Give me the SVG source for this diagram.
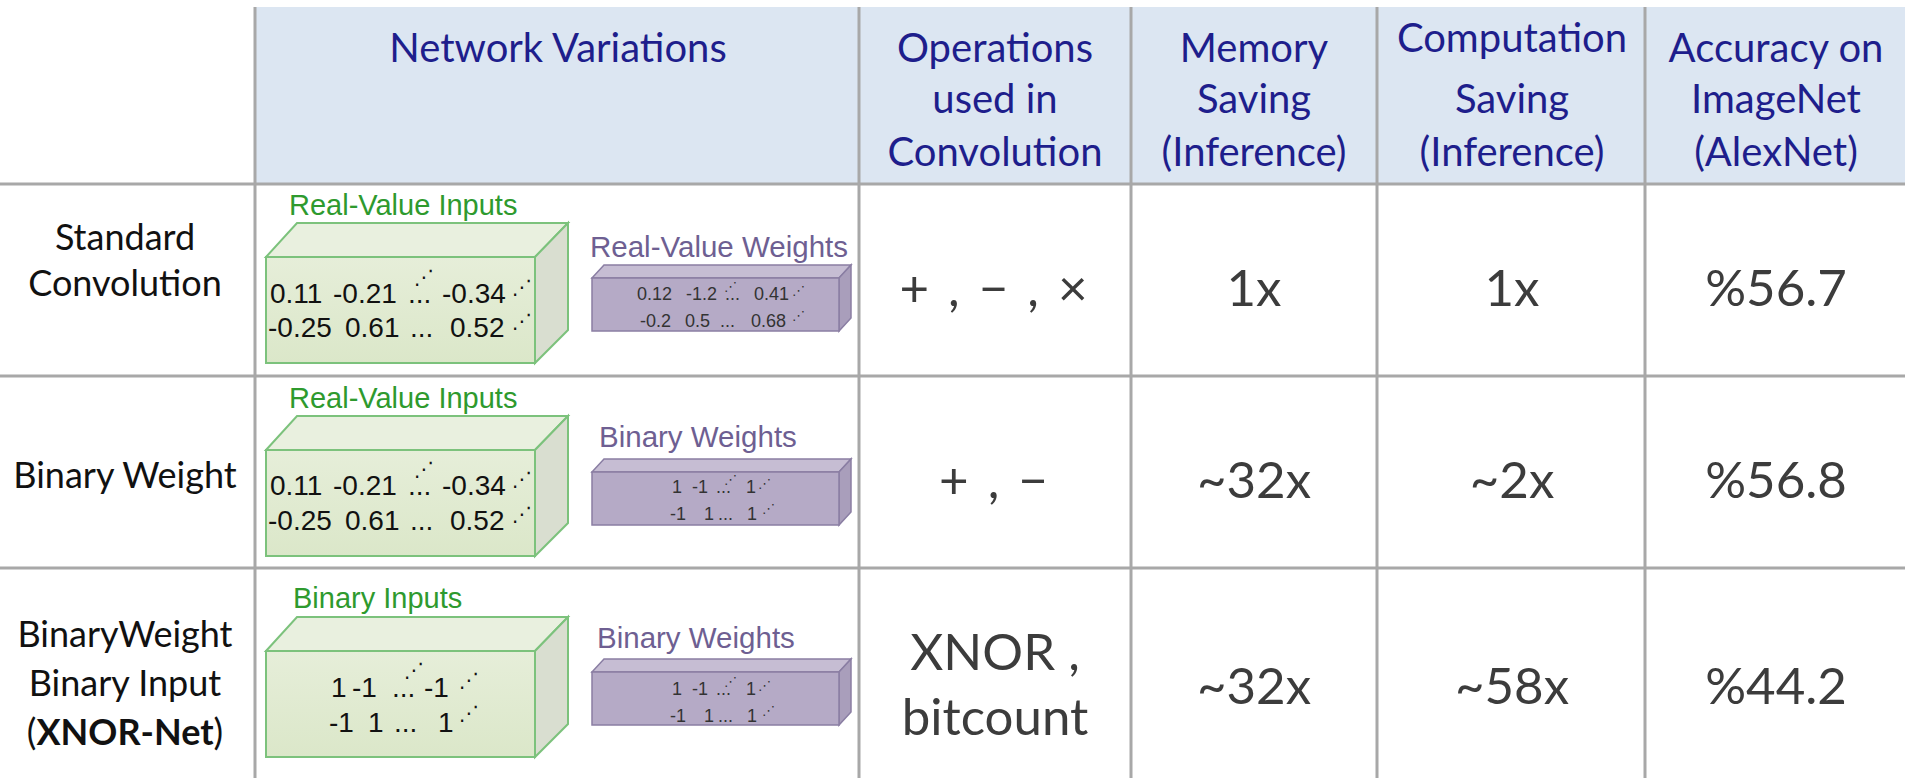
<svg xmlns="http://www.w3.org/2000/svg" width="1905" height="778" viewBox="0 0 1905 778">
<style>
.hd{font-family:Lato,"Open Sans",sans-serif;font-size:40px;fill:#1e1e8c;text-anchor:middle}
.rl{font-family:Lato,"Open Sans",sans-serif;font-size:36px;fill:#111;text-anchor:middle}
.dt{font-family:Lato,"Open Sans",sans-serif;font-size:51px;fill:#3c3c3c;text-anchor:middle}
.gl{font-family:"Liberation Sans",Arial,sans-serif;font-size:29px;fill:#2e9a2e}
.pl{font-family:"Liberation Sans",Arial,sans-serif;font-size:29.5px;fill:#6e5f92}
.gv{font-family:"Liberation Sans",Arial,sans-serif;font-size:28px;fill:#111}
.pv{font-family:"Liberation Sans",Arial,sans-serif;font-size:18px;fill:#333}
.dg{font-family:"DejaVu Sans",sans-serif;font-size:20px;fill:#111}
.dp{font-family:"DejaVu Sans",sans-serif;font-size:13px;fill:#333}
.grid{stroke:#a8a8a8;stroke-width:3;fill:none}
</style>
<defs>
<linearGradient id="gf" x1="0" y1="0" x2="0" y2="1"><stop offset="0" stop-color="#e6eed9"/><stop offset="1" stop-color="#dbe7c9"/></linearGradient>
<g id="gcube">
<polygon points="0,0 31,-34 302,-34 269,0" fill="#e9f0df" stroke="#7cc27c" stroke-width="2"/>
<polygon points="269,0 302,-34 302,73 269,106" fill="#d9ded0" stroke="#7cc27c" stroke-width="2"/>
<rect x="0" y="0" width="269" height="106" fill="url(#gf)" stroke="#7cc27c" stroke-width="2"/>
</g>
<g id="pcube">
<polygon points="0,0 12,-13 259,-13 247,0" fill="#c6bdd3" stroke="#8a7ea3" stroke-width="1.5"/>
<polygon points="247,0 259,-13 259,40 247,53" fill="#a99ebb" stroke="#8a7ea3" stroke-width="1.5"/>
<rect x="0" y="0" width="247" height="53" fill="#b5aac6" stroke="#8a7ea3" stroke-width="1.5"/>
</g>
</defs>

<g id="header">
<rect x="256" y="7" width="1649" height="177" fill="#dce6f2"/>
<text class="hd" x="558" y="62">Network Variations</text>
<text class="hd" x="995" y="62">Operations</text>
<text class="hd" x="995" y="113">used in</text>
<text class="hd" x="995" y="166">Convolution</text>
<text class="hd" x="1254" y="62">Memory</text>
<text class="hd" x="1254" y="113">Saving</text>
<text class="hd" x="1254" y="166">(Inference)</text>
<text class="hd" x="1512" y="52">Computation</text>
<text class="hd" x="1512" y="113">Saving</text>
<text class="hd" x="1512" y="166">(Inference)</text>
<text class="hd" x="1776" y="62">Accuracy on</text>
<text class="hd" x="1776" y="113">ImageNet</text>
<text class="hd" x="1776" y="166">(AlexNet)</text>
</g>

<g id="grid">
<line class="grid" x1="255" y1="7" x2="255" y2="778"/>
<line class="grid" x1="859" y1="7" x2="859" y2="778"/>
<line class="grid" x1="1131" y1="7" x2="1131" y2="778"/>
<line class="grid" x1="1377" y1="7" x2="1377" y2="778"/>
<line class="grid" x1="1645" y1="7" x2="1645" y2="778"/>
<line class="grid" x1="0" y1="184" x2="1905" y2="184" stroke-width="4"/>
<line class="grid" x1="0" y1="376" x2="1905" y2="376"/>
<line class="grid" x1="0" y1="568" x2="1905" y2="568"/>
</g>

<g id="row-standard">
<text class="rl" x="125" y="250">Standard</text>
<text class="rl" x="125" y="296">Convolution</text>
<g id="std-inputs">
<text class="gl" x="289" y="215">Real-Value Inputs</text>
<use href="#gcube" x="266" y="257"/>
<text class="gv" x="270" y="303">0.11</text>
<text class="gv" x="333" y="303">-0.21</text>
<text class="gv" x="408" y="303">...</text>
<text class="gv" x="442" y="303">-0.34</text>
<text class="gv" x="268" y="337">-0.25</text>
<text class="gv" x="345" y="337">0.61</text>
<text class="gv" x="410" y="337">...</text>
<text class="gv" x="450" y="337">0.52</text>
<text class="dg" x="414" y="284">⋰</text>
<text class="dg" x="512" y="294">⋰</text>
<text class="dg" x="512" y="328">⋰</text>
</g>
<g id="std-weights">
<text class="pl" x="590" y="257">Real-Value Weights</text>
<use href="#pcube" x="592" y="278"/>
<text class="pv" x="637" y="300">0.12</text>
<text class="pv" x="686" y="300">-1.2</text>
<text class="pv" x="725" y="300">...</text>
<text class="pv" x="754" y="300">0.41</text>
<text class="pv" x="640" y="327">-0.2</text>
<text class="pv" x="685" y="327">0.5</text>
<text class="pv" x="720" y="327">...</text>
<text class="pv" x="751" y="327">0.68</text>
<text class="dp" x="724" y="291">⋰</text>
<text class="dp" x="792" y="295">⋰</text>
<text class="dp" x="792" y="320">⋰</text>
</g>
<text class="dt" x="995" y="306" letter-spacing="3">+ , − , ×</text>
<text class="dt" x="1254" y="306">1x</text>
<text class="dt" x="1512" y="306">1x</text>
<text class="dt" x="1776" y="306">%56.7</text>
</g>

<g id="row-binary-weight">
<text class="rl" x="125" y="488">Binary Weight</text>
<g id="bw-inputs">
<text class="gl" x="289" y="408">Real-Value Inputs</text>
<use href="#gcube" x="266" y="450"/>
<text class="gv" x="270" y="495">0.11</text>
<text class="gv" x="333" y="495">-0.21</text>
<text class="gv" x="408" y="495">...</text>
<text class="gv" x="442" y="495">-0.34</text>
<text class="gv" x="268" y="530">-0.25</text>
<text class="gv" x="345" y="530">0.61</text>
<text class="gv" x="410" y="530">...</text>
<text class="gv" x="450" y="530">0.52</text>
<text class="dg" x="414" y="476">⋰</text>
<text class="dg" x="512" y="486">⋰</text>
<text class="dg" x="512" y="521">⋰</text>
</g>
<g id="bw-weights">
<text class="pl" x="599" y="447">Binary Weights</text>
<use href="#pcube" x="592" y="472"/>
<text class="pv" x="672" y="493">1</text>
<text class="pv" x="692" y="493">-1</text>
<text class="pv" x="716" y="493">...</text>
<text class="pv" x="746" y="493">1</text>
<text class="pv" x="670" y="520">-1</text>
<text class="pv" x="704" y="520">1</text>
<text class="pv" x="718" y="520">...</text>
<text class="pv" x="747" y="520">1</text>
<text class="dp" x="724" y="484">⋰</text>
<text class="dp" x="758" y="488">⋰</text>
<text class="dp" x="762" y="513">⋰</text>
</g>
<text class="dt" x="995" y="498" letter-spacing="3">+ , −</text>
<text class="dt" x="1254" y="498">~32x</text>
<text class="dt" x="1512" y="498">~2x</text>
<text class="dt" x="1776" y="498">%56.8</text>
</g>

<g id="row-xnor">
<text class="rl" x="125" y="647">BinaryWeight</text>
<text class="rl" x="125" y="696">Binary Input</text>
<text class="rl" x="125" y="745">(<tspan font-weight="bold">XNOR-Net</tspan>)</text>
<g id="xn-inputs">
<text class="gl" x="293" y="608">Binary Inputs</text>
<use href="#gcube" x="266" y="651"/>
<text class="gv" x="331" y="697">1</text>
<text class="gv" x="352" y="697">-1</text>
<text class="gv" x="392" y="697">...</text>
<text class="gv" x="424" y="697">-1</text>
<text class="gv" x="329" y="732">-1</text>
<text class="gv" x="368" y="732">1</text>
<text class="gv" x="394" y="732">...</text>
<text class="gv" x="438" y="732">1</text>
<text class="dg" x="404" y="677">⋰</text>
<text class="dg" x="459" y="687">⋰</text>
<text class="dg" x="459" y="720">⋰</text>
</g>
<g id="xn-weights">
<text class="pl" x="597" y="648">Binary Weights</text>
<use href="#pcube" x="592" y="672"/>
<text class="pv" x="672" y="695">1</text>
<text class="pv" x="692" y="695">-1</text>
<text class="pv" x="716" y="695">...</text>
<text class="pv" x="746" y="695">1</text>
<text class="pv" x="670" y="722">-1</text>
<text class="pv" x="704" y="722">1</text>
<text class="pv" x="718" y="722">...</text>
<text class="pv" x="747" y="722">1</text>
<text class="dp" x="724" y="686">⋰</text>
<text class="dp" x="758" y="690">⋰</text>
<text class="dp" x="762" y="715">⋰</text>
</g>
<text class="dt" x="995" y="670">XNOR ,</text>
<text class="dt" x="995" y="735">bitcount</text>
<text class="dt" x="1254" y="704">~32x</text>
<text class="dt" x="1512" y="704">~58x</text>
<text class="dt" x="1776" y="704">%44.2</text>
</g>
</svg>
